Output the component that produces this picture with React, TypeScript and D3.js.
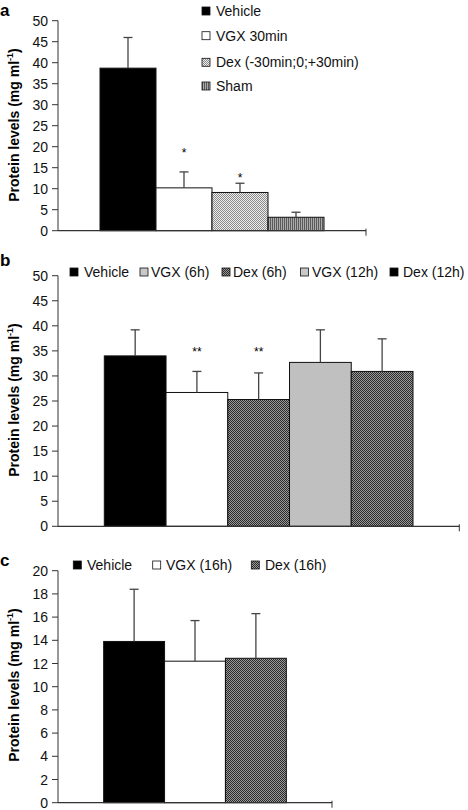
import React from "react";
import * as d3 from "d3";

// ---------- Data ----------
const aCategories = ["Vehicle", "VGX 30min", "Dex (-30min;0;+30min)", "Sham"];
const aValues = [38.7, 10.2, 9.1, 3.2];
const aErrors = [7.3, 3.8, 2.2, 1.2];
const aStars = ["", "*", "*", ""];
const aStarLevels = [0, 19, 13, 0];
const aTicks = [0, 5, 10, 15, 20, 25, 30, 35, 40, 45, 50];

const bCategories = ["Vehicle", "VGX (6h)", "Dex (6h)", "VGX (12h)", "Dex (12h)"];
const bValues = [34.0, 26.7, 25.3, 32.7, 30.9];
const bErrors = [5.2, 4.2, 5.3, 6.5, 6.5];
const bStars = ["", "**", "**", "", ""];
const bStarLevels = [0, 35.2, 35.2, 0, 0];
const bTicks = [0, 5, 10, 15, 20, 25, 30, 35, 40, 45, 50];

const cCategories = ["Vehicle", "VGX (16h)", "Dex (16h)"];
const cValues = [13.9, 12.2, 12.45];
const cErrors = [4.5, 3.5, 3.85];
const cTicks = [0, 2, 4, 6, 8, 10, 12, 14, 16, 18, 20];

const FONT = "'Liberation Sans', Arial, Helvetica, sans-serif";

type Panel = {
  letter: string;
  top: number;
  bottom: number;
  right: number;
  max: number;
  ticks: number[];
  cats: string[];
  values: number[];
  errors: number[];
  stars?: string[];
  starLevels?: number[];
  fills: string[];
  legendFills: string[];
  legend: { x: number; y: number; tx: number }[];
  labelCenter: number;
  letterY: number;
};

const AXIS_X = 58;

function PanelView({ p }: { p: Panel }) {
  const y = d3.scaleLinear().domain([0, p.max]).range([p.bottom, p.top]);
  const x = d3
    .scaleBand<string>()
    .domain(p.cats)
    .range([AXIS_X, p.right])
    .paddingInner(0)
    .paddingOuter(0.75);
  const bw = x.bandwidth();
  return (
    <g>
      <text x={0} y={p.letterY} fontFamily={FONT} fontWeight="bold" fontSize={17}>
        {p.letter}
      </text>
      <text
        transform={`translate(19,${p.labelCenter}) rotate(-90)`}
        textAnchor="middle"
        fontFamily={FONT}
        fontWeight="bold"
        fontSize={14}
      >
        Protein levels (mg ml
        <tspan fontSize={9} dy={-6}>-1</tspan>
        <tspan dy={6}>)</tspan>
      </text>
      {/* bars */}
      {p.cats.map((c, i) => (
        <rect
          key={c}
          x={x(c)}
          y={y(p.values[i])}
          width={bw}
          height={y(0) - y(p.values[i])}
          fill={p.fills[i]}
          stroke="#111"
          strokeWidth={1}
        />
      ))}
      {/* error bars */}
      {p.cats.map((c, i) => {
        const cx = (x(c) as number) + bw / 2;
        const y0 = y(p.values[i]);
        const y1 = y(p.values[i] + p.errors[i]);
        return (
          <g key={"e" + c} stroke="#444" strokeWidth={1.3}>
            <line x1={cx} x2={cx} y1={y0} y2={y1} />
            <line x1={cx - 4.5} x2={cx + 4.5} y1={y1} y2={y1} />
          </g>
        );
      })}
      {/* stars */}
      {p.stars &&
        p.cats.map((c, i) =>
          p.stars![i] ? (
            <text
              key={"s" + c}
              x={(x(c) as number) + bw / 2}
              y={y(p.starLevels![i]) + 6}
              textAnchor="middle"
              fontFamily={FONT}
              fontSize={12}
            >
              {p.stars![i]}
            </text>
          ) : null
        )}
      {/* y axis */}
      <line x1={AXIS_X} x2={AXIS_X} y1={y(p.max)} y2={y(0)} stroke="#333" strokeWidth={1} />
      {p.ticks.map((t) => (
        <g key={"t" + t}>
          <line x1={AXIS_X - 6} x2={AXIS_X} y1={y(t)} y2={y(t)} stroke="#333" strokeWidth={1} />
          <text
            x={AXIS_X - 10}
            y={y(t) + 5}
            textAnchor="end"
            fontFamily={FONT}
            fontSize={14}
            fill="#111"
          >
            {t}
          </text>
        </g>
      ))}
      {/* x axis */}
      <line x1={AXIS_X} x2={p.right} y1={y(0)} y2={y(0)} stroke="#333" strokeWidth={1.2} />
      <line x1={p.right} x2={p.right} y1={y(0) - 2} y2={y(0) + 5} stroke="#333" strokeWidth={1} />
      {/* legend */}
      {p.cats.map((c, i) => (
        <g key={"l" + c}>
          <rect
            x={p.legend[i].x}
            y={p.legend[i].y - 4}
            width={8}
            height={8}
            fill={p.legendFills[i]}
            stroke="#111"
            strokeWidth={0.8}
          />
          <text x={p.legend[i].tx} y={p.legend[i].y + 5} fontFamily={FONT} fontSize={14} fill="#111">
            {c}
          </text>
        </g>
      ))}
    </g>
  );
}

export default function App() {
  const panels: Panel[] = [
    {
      letter: "a",
      top: 20.7,
      bottom: 230.7,
      right: 366,
      max: 50,
      ticks: aTicks,
      cats: aCategories,
      values: aValues,
      errors: aErrors,
      stars: aStars,
      starLevels: aStarLevels,
      fills: ["#000", "#fff", "url(#lightCheck)", "url(#stripes)"],
      legendFills: ["#000", "#fff", "url(#lightCheck)", "url(#stripes)"],
      legend: [
        { x: 202, y: 11, tx: 216 },
        { x: 202, y: 35.7, tx: 216 },
        { x: 202, y: 62.3, tx: 216 },
        { x: 202, y: 86, tx: 216 },
      ],
      labelCenter: 125,
      letterY: 16,
    },
    {
      letter: "b",
      top: 275.7,
      bottom: 526.3,
      right: 459.3,
      max: 50,
      ticks: bTicks,
      cats: bCategories,
      values: bValues,
      errors: bErrors,
      stars: bStars,
      starLevels: bStarLevels,
      fills: ["#000", "#fff", "url(#darkCheck)", "#c0c0c0", "url(#darkCheck)"],
      legendFills: ["#000", "#c8c8c8", "url(#darkCheck)", "#c8c8c8", "#000"],
      legend: [
        { x: 70, y: 272, tx: 84 },
        { x: 140, y: 272, tx: 151 },
        { x: 222, y: 272, tx: 233 },
        { x: 300.5, y: 272, tx: 312 },
        { x: 390, y: 272, tx: 403 },
      ],
      labelCenter: 400,
      letterY: 266,
    },
    {
      letter: "c",
      top: 570.7,
      bottom: 802.7,
      right: 332,
      max: 20,
      ticks: cTicks,
      cats: cCategories,
      values: cValues,
      errors: cErrors,
      fills: ["#000", "#fff", "url(#darkCheck)"],
      legendFills: ["#000", "#fff", "url(#darkCheck)"],
      legend: [
        { x: 73.3, y: 565, tx: 87 },
        { x: 152.7, y: 565, tx: 166 },
        { x: 251.3, y: 565, tx: 265 },
      ],
      labelCenter: 685,
      letterY: 566,
    },
  ];
  return (
    <svg
      width={468}
      height={810}
      style={{ position: "absolute", left: 0, top: 0, background: "#fff" }}
    >
      <defs>
        <pattern id="lightCheck" width={2} height={2} patternUnits="userSpaceOnUse">
          <rect width={2} height={2} fill="#eeeeee" />
          <rect width={1} height={1} fill="#8a8a8a" />
          <rect x={1} y={1} width={1} height={1} fill="#8a8a8a" />
        </pattern>
        <pattern id="stripes" width={2} height={2} patternUnits="userSpaceOnUse">
          <rect width={2} height={2} fill="#aaaaaa" />
          <rect width={1} height={2} fill="#5a5a5a" />
        </pattern>
        <pattern id="darkCheck" width={2} height={2} patternUnits="userSpaceOnUse">
          <rect width={2} height={2} fill="#9a9a9a" />
          <rect width={1} height={1} fill="#2a2a2a" />
          <rect x={1} y={1} width={1} height={1} fill="#2a2a2a" />
        </pattern>
      </defs>
      {panels.map((p) => (
        <PanelView key={p.letter} p={p} />
      ))}
    </svg>
  );
}
